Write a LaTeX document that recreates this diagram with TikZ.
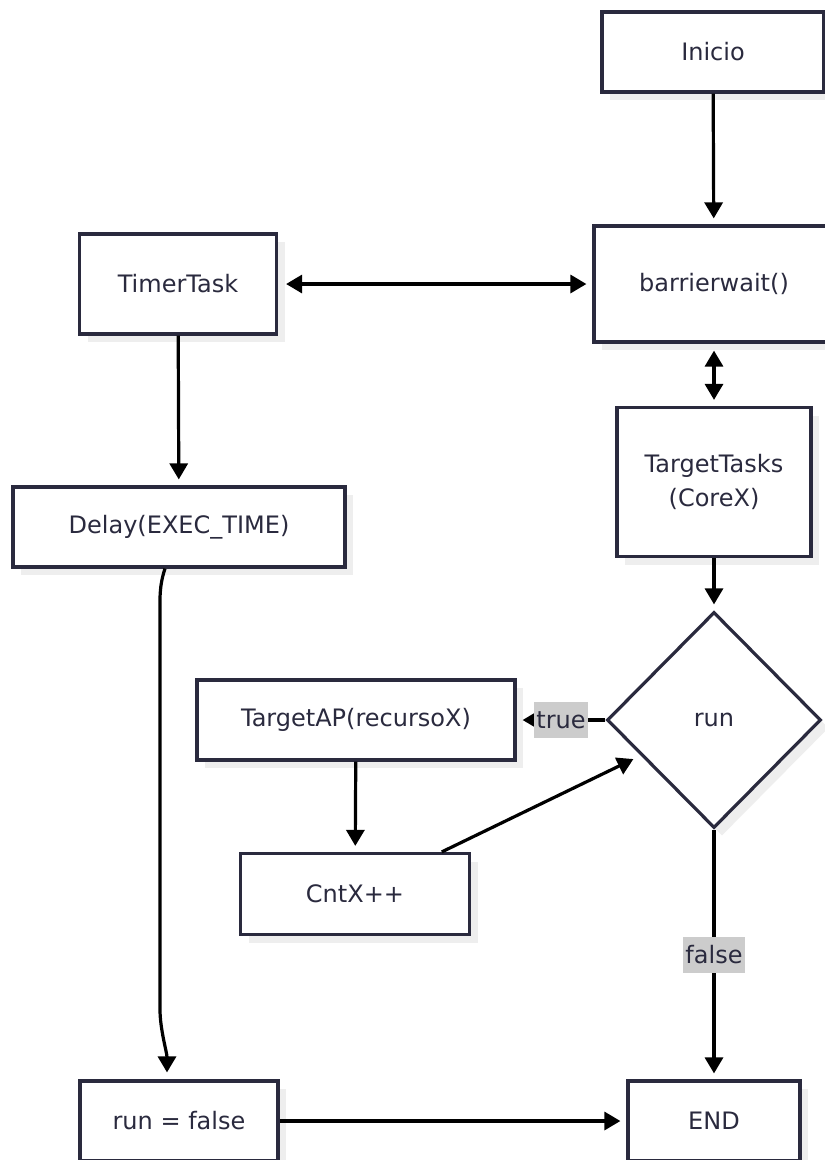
\documentclass[tikz,border=0pt]{standalone}
\usepackage{fontspec}
\setmainfont{DejaVu Sans}
\usetikzlibrary{arrows.meta,shapes.geometric,shadows}
\definecolor{ink}{RGB}{42,42,62}
\definecolor{lblbg}{RGB}{204,204,204}
\definecolor{shade}{RGB}{238,238,238}
\begin{document}
\begin{tikzpicture}[x=1pt,y=-1pt,
  font=\fontsize{24}{30}\selectfont, text=ink,
  shadowed/.style={drop shadow={shadow xshift=8pt, shadow yshift=-8pt, fill=shade, opacity=1}},
  box/.style={rectangle, draw=ink, line width=3.2pt, fill=white, align=center, inner sep=0pt, shadowed},
  dia/.style={diamond, draw=ink, line width=3.2pt, fill=white, inner sep=0pt, shadowed},
  arr/.style={line width=3.2pt, draw=black, -{Triangle[length=16pt,width=18pt]}, shorten >=6pt},
  both/.style={line width=3.2pt, draw=black, {Triangle[length=16pt,width=18pt]}-{Triangle[length=16pt,width=18pt]}, shorten >=6pt, shorten <=8pt},
  lbl/.style={fill=lblbg, text=ink, inner xsep=2pt, inner ysep=0pt, minimum height=36pt}
]
\useasboundingbox (0,0) rectangle (825,1160);
\clip (0,0) rectangle (825,1160);
\fill[white] (0,0) rectangle (825,1160);

% process boxes and the decision
\node[box, minimum width=222pt, minimum height=80pt] (inicio) at (713,52) {Inicio};
\node[box, minimum width=240pt, minimum height=116pt] (barrier) at (714,284) {barrierwait()};
\node[box, minimum width=197pt, minimum height=100pt] (timer) at (178,284) {TimerTask};
\node[box, minimum width=332pt, minimum height=80pt] (delay) at (179,527) {Delay(EXEC\_TIME)};
\node[box, minimum width=194pt, minimum height=149pt, font=\fontsize{24}{34}\selectfont] (tt) at (714,482) {TargetTasks\\(CoreX)};
\node[dia, minimum width=214pt, minimum height=216pt] (run) at (714,720) {run};
\node[box, minimum width=318pt, minimum height=80pt] (ap) at (356,720) {TargetAP(recursoX)};
\node[box, minimum width=229pt, minimum height=81pt] (cnt) at (355,894) {CntX++};
\node[box, minimum width=172pt, minimum height=80pt] (end) at (714,1121) {END};
\node[box, minimum width=198pt, minimum height=80pt] (runf) at (179,1121) {run = false};

% connectors
\draw[arr] (inicio) -- (barrier);
\draw[both] (timer) -- (barrier);
\draw[both, shorten <=7pt] (barrier) -- (tt);
\draw[arr] (timer) -- (delay);
\draw[arr] (tt) -- (run);
\draw[arr] (run.west) -- node[lbl, pos=0.5] {true} (ap.east);
\draw[arr] (ap) -- (cnt);
\draw[arr, shorten >=8pt] (cnt) -- (run);
\draw[arr] (run.south) -- node[lbl, midway] {false} (end.north);
\draw[arr] (runf) -- (end);
\draw[arr, shorten >=0pt] ([xshift=-14pt]delay.south)
  .. controls +(-6,18) and +(0,-20) .. ([xshift=-19pt,yshift=-50pt]delay.south)
  -- ([xshift=-19pt,yshift=70pt]runf.north)
  .. controls +(0,20) and +(0,-20) .. ([xshift=-12pt,yshift=7pt]runf.north);
\end{tikzpicture}
\end{document}
